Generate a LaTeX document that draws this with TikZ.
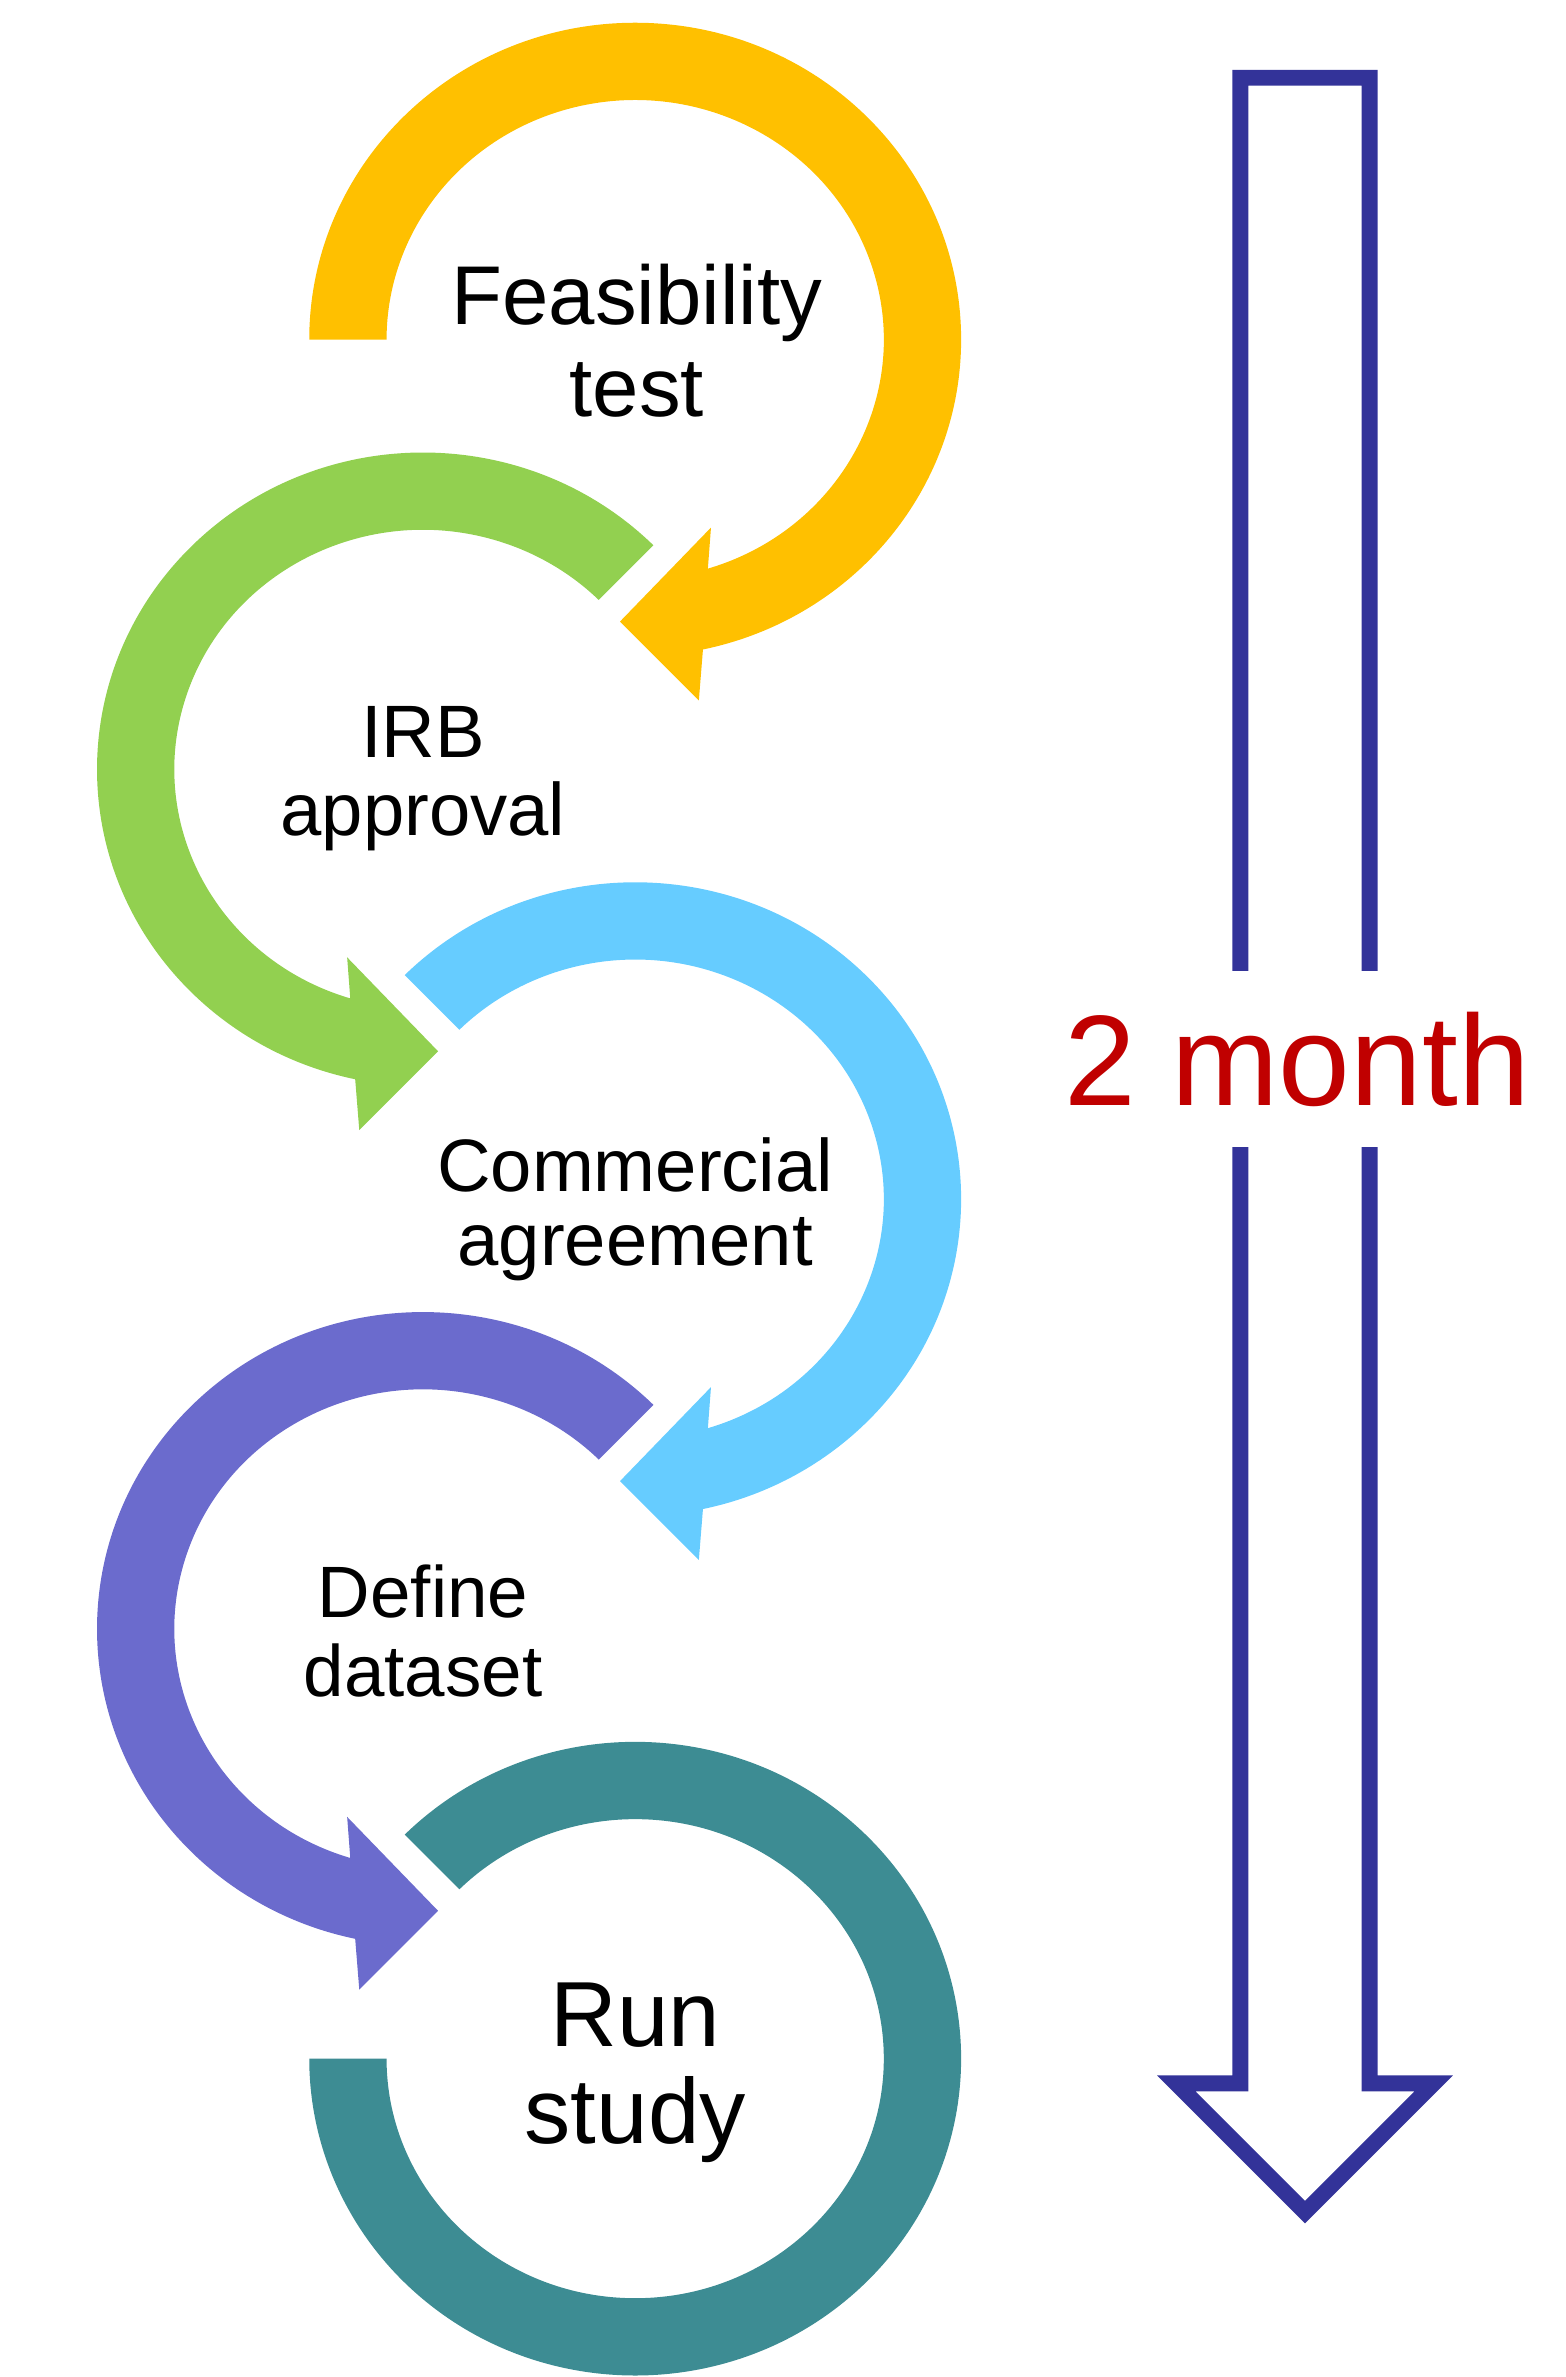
\documentclass[tikz,border=0pt]{standalone}
\usepackage{fontspec}
\setmainfont{Liberation Sans}
\usetikzlibrary{calc}
\definecolor{cyel}{HTML}{FFC000}
\definecolor{cgrn}{HTML}{92D050}
\definecolor{cblu}{HTML}{66CCFF}
\definecolor{cpur}{HTML}{6B6BCD}
\definecolor{ctea}{HTML}{3D8C93}
\definecolor{cnav}{HTML}{333399}
\definecolor{cred}{HTML}{C00000}
% ring ending in an arrowhead; #1 = start angle, #2 = colour
\newcommand\arrowring[2]{%
  \fill[#2] (#1:215 and 209)
    arc[start angle=#1, end angle=438, x radius=215, y radius=209]
    -- (42,238) -- (-10,186) -- (50,124) -- (433:164 and 158)
    arc[start angle=433, end angle=#1, x radius=164, y radius=158] -- cycle;}
\tikzset{
  lbl/.style={inner sep=0pt, anchor=base, text=black},
}
\begin{document}
\begin{tikzpicture}[x=1pt, y=-1pt]
\useasboundingbox (0,0) rectangle (1033,1568);
\clip (0,0) rectangle (1033,1568);
\coordinate (c1) at (419,224);
\coordinate (c2) at (279,507.5);
\coordinate (c3) at (419,791);
\coordinate (c4) at (279,1074.5);
\coordinate (c5) at (419,1358);
% rings
\begin{scope}[shift={(c1)}] \arrowring{180}{cyel} \end{scope}
\begin{scope}[shift={(c2)}, xscale=-1] \arrowring{225}{cgrn} \end{scope}
\begin{scope}[shift={(c3)}] \arrowring{225}{cblu} \end{scope}
\begin{scope}[shift={(c4)}, xscale=-1] \arrowring{225}{cpur} \end{scope}
\begin{scope}[shift={(c5)}]
  \fill[ctea] (225:215 and 209)
    arc[start angle=225, end angle=540, x radius=215, y radius=209]
    -- (540:164 and 158)
    arc[start angle=540, end angle=225, x radius=164, y radius=158] -- cycle;
\end{scope}
% labels
\node[lbl, font=\fontsize{55}{60}\selectfont] (t1a) at (420,214) {Feasibility};
\node[lbl, font=\fontsize{55}{60}\selectfont] (t1b) at (420,275) {test};
\node[lbl, font=\fontsize{49}{54}\selectfont] (t2a) at (279,500) {IRB};
\node[lbl, font=\fontsize{49}{54}\selectfont] (t2b) at (279,551) {approval};
\node[lbl, font=\fontsize{49}{54}\selectfont] (t3a) at (419,786) {Commercial};
\node[lbl, font=\fontsize{49}{54}\selectfont] (t3b) at (419,835) {agreement};
\node[lbl, font=\fontsize{48}{53}\selectfont] (t4a) at (279,1067) {Define};
\node[lbl, font=\fontsize{48}{53}\selectfont] (t4b) at (279,1119) {dataset};
\node[lbl, font=\fontsize{61}{66}\selectfont] (t5a) at (419,1350) {Run};
\node[lbl, font=\fontsize{61}{66}\selectfont] (t5b) at (419,1414) {study};
% time arrow
\draw[cnav, line width=10.5pt, line join=miter, miter limit=10]
  (818.2,1374.3) -- (818.2,51.3) -- (903.5,51.3) -- (903.5,1374.3)
  -- (945.7,1374.3) -- (860.8,1459.2) -- (775.9,1374.3) -- cycle;
\node[inner sep=0pt, anchor=base, fill=white, text=cred,
      text height=89pt, text depth=27pt,
      font=\fontsize{85}{90}\selectfont] (dur) at (855.6,729.3) {2 month};
\end{tikzpicture}
\end{document}
